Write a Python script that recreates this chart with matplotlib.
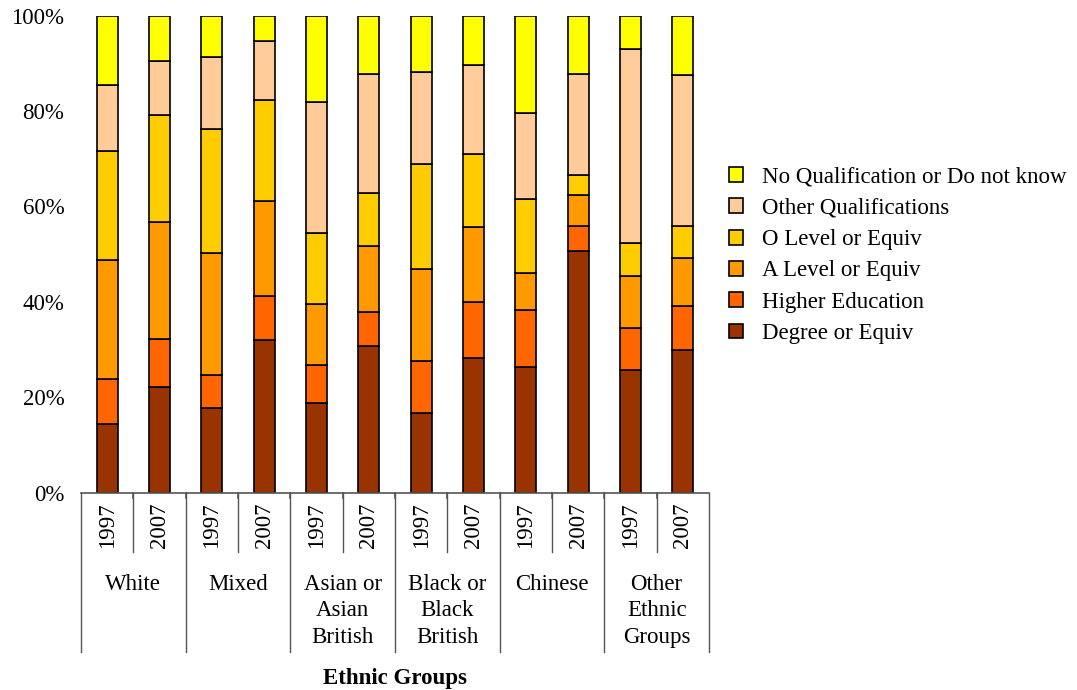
import matplotlib.pyplot as plt
import numpy as np
from matplotlib import rcParams
from matplotlib.transforms import blended_transform_factory

rcParams['font.family'] = ['Liberation Serif', 'DejaVu Serif']
rcParams['font.size'] = 16.5

groups = ["White", "Mixed", "Asian or\nAsian\nBritish", "Black or\nBlack\nBritish",
          "Chinese", "Other\nEthnic\nGroups"]
years = ["1997", "2007"]

# percentages per bar (White 97, White 07, Mixed 97, ...)
degree = [14.3, 22.1, 17.8, 31.9, 18.7, 30.7, 16.7, 28.2, 26.3, 50.6, 25.8, 29.8]
higher_ed = [9.5, 10.2, 6.9, 9.4, 8.1, 7.2, 10.9, 11.8, 12.0, 5.2, 8.8, 9.3]
a_level = [25.0, 24.4, 25.5, 19.8, 12.8, 13.7, 19.2, 15.6, 7.8, 6.5, 10.8, 10.1]
o_level = [22.8, 22.5, 26.1, 21.3, 14.8, 11.3, 22.0, 15.5, 15.5, 4.4, 7.0, 6.6]
other_qual = [13.9, 11.4, 15.0, 12.3, 27.5, 24.8, 19.3, 18.6, 18.0, 21.1, 40.6, 31.8]
no_qual = [14.5, 9.4, 8.7, 5.3, 18.1, 12.3, 11.9, 10.3, 20.4, 12.2, 7.0, 12.4]

series = [
    ("Degree or Equiv", degree, "#993300"),
    ("Higher Education", higher_ed, "#FF6600"),
    ("A Level or Equiv", a_level, "#FF9900"),
    ("O Level or Equiv", o_level, "#FFCC00"),
    ("Other Qualifications", other_qual, "#FFCC99"),
    ("No Qualification or Do not know", no_qual, "#FFFF00"),
]

fig = plt.figure(figsize=(10.77, 6.9), dpi=100)
ax = fig.add_axes([0.0752, 0.2862, 0.5831, 0.6910])

n = len(degree)
x = np.arange(n)
totals = np.sum([s[1] for s in series], axis=0)
bottom = np.zeros(n)
handles = []
for name, vals, col in series:
    v = np.array(vals) / totals * 100
    b = ax.bar(x, v, bottom=bottom, width=0.4, color=col, edgecolor="black",
               linewidth=1.2, label=name)
    handles.append(b)
    bottom += v

ax.set_xlim(-0.5, n - 0.5)
ax.set_ylim(0, 100)
ax.set_yticks([0, 20, 40, 60, 80, 100])
ax.set_yticklabels(["0%", "20%", "40%", "60%", "80%", "100%"])
ax.tick_params(axis="y", length=0, pad=12)
ax.set_xticks([])
for s in ["top", "right", "left"]:
    ax.spines[s].set_visible(False)
ax.spines["bottom"].set_color("#555555")
ax.spines["bottom"].set_linewidth(1.2)

# hierarchical category axis
tr = blended_transform_factory(ax.transData, ax.transAxes)
for i in range(n + 1):
    xe = i - 0.5
    depth = -0.335 if i % 2 == 0 else -0.125
    ax.plot([xe, xe], [0, depth], color="#555555", lw=1, transform=tr, clip_on=False)
    if 0 < i < n:
        ax.plot([xe, xe], [0, -0.012], color="#555555", lw=1.2, transform=tr, clip_on=False)
for i in range(n):
    ax.text(i, -0.020, years[i % 2], rotation=90, ha="center", va="top",
            transform=tr)
for g, name in enumerate(groups):
    ax.text(2 * g + 0.5, -0.170, name, ha="center", va="top", transform=tr,
            linespacing=1.36)

ax.text(0.5, -0.390, "Ethnic Groups", ha="center", va="center",
        fontweight="bold", transform=ax.transAxes)

fig.legend(handles[::-1], [s[0] for s in series][::-1], loc="center left",
           bbox_to_anchor=(0.677, 0.630), frameon=False, handlelength=0.62,
           handleheight=0.62, handletextpad=0.8, labelspacing=0.45,
           borderaxespad=0, borderpad=0)

fig.savefig("out.png", dpi=100)
